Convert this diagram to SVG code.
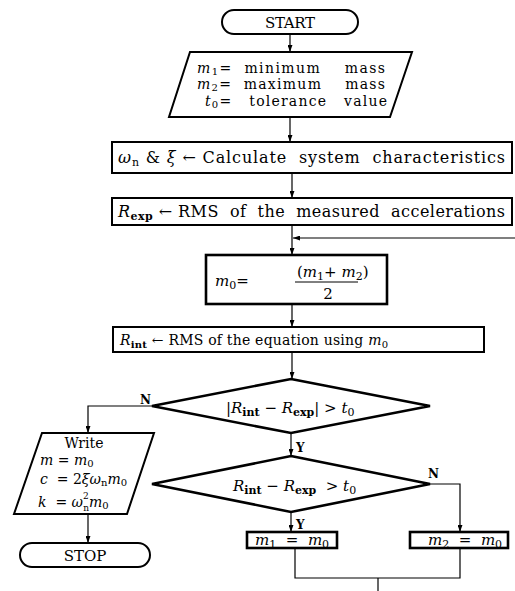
<svg xmlns="http://www.w3.org/2000/svg" width="515" height="591" viewBox="0 0 515 591">
<style>
text{font-family:"DejaVu Serif","Liberation Serif",serif;fill:#000;font-size:16px;white-space:pre}
.i{font-style:italic}
.s{font-size:11px}
.b{font-weight:bold}
.m{font-size:15px}
.w{font-size:14px}
.w .s{font-size:10px}
.w .t{font-size:9px}
.box{fill:#fff;stroke:#000;stroke-width:2}
.thick{stroke-width:2.6}
.c{fill:none;stroke:#000;stroke-width:1.2}
.lbl{font-size:12px;font-weight:bold}
.mid{text-anchor:middle}
</style>
<defs>
<marker id="a" viewBox="0 0 10 7" refX="10" refY="3.5" markerWidth="7" markerHeight="5" orient="auto" markerUnits="userSpaceOnUse"><path d="M0,0 L10,3.5 L0,7 z" fill="#000"/></marker>
</defs>
<g id="connectors">
<line class="c" x1="290" y1="34" x2="290" y2="52" marker-end="url(#a)"/>
<line class="c" x1="290" y1="117" x2="290" y2="142" marker-end="url(#a)"/>
<line class="c" x1="292" y1="173" x2="292" y2="198" marker-end="url(#a)"/>
<line class="c" x1="292" y1="225" x2="292" y2="255" marker-end="url(#a)"/>
<line class="c" x1="515" y1="238" x2="293" y2="238" marker-end="url(#a)"/>
<line class="c" x1="292" y1="304" x2="292" y2="327" marker-end="url(#a)"/>
<line class="c" x1="292" y1="352" x2="292" y2="379" marker-end="url(#a)"/>
<polyline class="c" points="152,406 88,406 88,433" marker-end="url(#a)"/>
<line class="c" x1="88" y1="514" x2="88" y2="543" marker-end="url(#a)"/>
<line class="c" x1="291" y1="433" x2="291" y2="456" marker-end="url(#a)"/>
<polyline class="c" points="430,484 460,484 460,532" marker-end="url(#a)"/>
<line class="c" x1="291" y1="512" x2="291" y2="532" marker-end="url(#a)"/>
<polyline class="c" points="295,548 295,578 460,578 460,548"/>
<line class="c" x1="378" y1="578" x2="378" y2="591"/>
<text class="lbl" x="140" y="404">N</text>
<text class="lbl" x="296" y="452">Y</text>
<text class="lbl" x="428" y="478">N</text>
<text class="lbl" x="296" y="529">Y</text>
</g>
<g id="start">
<rect class="box" x="222" y="10" width="136" height="24" rx="12"/>
<text class="mid m" x="290" y="28" textLength="50">START</text>
</g>
<g id="input">
<polygon class="box" points="190,52 412,52 390,117 169,117"/>
<text class="w" x="197" y="73" textLength="188"><tspan class="i">m</tspan><tspan class="s" dy="2">1</tspan><tspan dy="-2">=  minimum    mass</tspan></text>
<text class="w" x="197" y="89" textLength="188"><tspan class="i">m</tspan><tspan class="s" dy="2">2</tspan><tspan dy="-2">=  maximum    mass</tspan></text>
<text class="w" x="205" y="106" textLength="182"><tspan class="i">t</tspan><tspan class="s" dy="2">0</tspan><tspan dy="-2">=   tolerance   value</tspan></text>
</g>
<g id="characteristics">
<rect class="box" x="112" y="142" width="400" height="31"/>
<text x="118" y="163" textLength="387"><tspan class="i">ω</tspan><tspan class="s" dy="3">n</tspan><tspan dy="-3"> &amp; </tspan><tspan class="i">ξ</tspan><tspan> ← Calculate  system  characteristics</tspan></text>
</g>
<g id="rexp">
<rect class="box" x="112" y="198" width="400" height="27"/>
<text x="118" y="217" textLength="387"><tspan class="i">R</tspan><tspan class="s b" dy="3">exp</tspan><tspan dy="-3"> ← RMS  of  the  measured  accelerations</tspan></text>
</g>
<g id="m0">
<rect class="box thick" x="206" y="255" width="181" height="49"/>
<text class="m" x="215" y="286"><tspan class="i">m</tspan><tspan class="s" dy="3">0</tspan><tspan dy="-3">=</tspan></text>
<text class="m" x="297" y="277">(<tspan class="i">m</tspan><tspan class="s" dy="3">1</tspan><tspan dy="-3">+ </tspan><tspan class="i">m</tspan><tspan class="s" dy="3">2</tspan><tspan dy="-3">)</tspan></text>
<line x1="295" y1="282" x2="358" y2="282" stroke="#000" stroke-width="1"/>
<text class="mid m" x="328" y="299">2</text>
</g>
<g id="rint">
<rect class="box" x="113" y="327" width="371" height="25"/>
<text class="w" x="120" y="345" textLength="268"><tspan class="i">R</tspan><tspan class="s b" dy="3">int</tspan><tspan dy="-3"> ← RMS of the equation using </tspan><tspan class="i">m</tspan><tspan class="s" dy="3">0</tspan></text>
</g>
<g id="decision1">
<polygon class="box thick" points="291,379 430,406 291,433 152,406"/>
<text class="m" x="226" y="413">|<tspan class="i">R</tspan><tspan class="s b" dy="3">int</tspan><tspan dy="-3"> − </tspan><tspan class="i">R</tspan><tspan class="s b" dy="3">exp</tspan><tspan dy="-3">| &gt; </tspan><tspan class="i">t</tspan><tspan class="s" dy="3">0</tspan></text>
</g>
<g id="decision2">
<polygon class="box thick" points="291,456 430,484 291,512 152,484"/>
<text class="m" x="233" y="491"><tspan class="i">R</tspan><tspan class="s b" dy="3">int</tspan><tspan dy="-3"> − </tspan><tspan class="i">R</tspan><tspan class="s b" dy="3">exp</tspan><tspan dy="-3">  &gt; </tspan><tspan class="i">t</tspan><tspan class="s" dy="3">0</tspan></text>
</g>
<g id="write">
<polygon class="box" points="42,433 154,433 127,514 14,514"/>
<text class="mid w" x="84" y="448">Write</text>
<text class="w" x="40" y="465"><tspan class="i">m</tspan><tspan> = </tspan><tspan class="i">m</tspan><tspan class="s" dy="2">0</tspan></text>
<text class="w" x="40" y="484"><tspan class="i">c</tspan><tspan>  = 2</tspan><tspan class="i">ξω</tspan><tspan class="s" dy="2">n</tspan><tspan class="i" dy="-2">m</tspan><tspan class="s" dy="2">0</tspan></text>
<text class="w" x="38" y="507"><tspan class="i">k</tspan><tspan>  = </tspan><tspan class="i">ω</tspan><tspan class="t" dy="-8">2</tspan><tspan class="t" dx="-5.5" dy="12">n</tspan><tspan class="i" dy="-4">m</tspan><tspan class="s" dy="2">0</tspan></text>
</g>
<g id="stop">
<rect class="box" x="20" y="543" width="130" height="24" rx="12"/>
<text class="mid m" x="85" y="561">STOP</text>
</g>
<g id="m1">
<rect class="box thick" x="247" y="532" width="90" height="16"/>
<text class="m" x="255" y="545"><tspan class="i">m</tspan><tspan class="s" dy="3">1</tspan><tspan dy="-3">  =  </tspan><tspan class="i">m</tspan><tspan class="s" dy="3">0</tspan></text>
</g>
<g id="m2">
<rect class="box thick" x="410" y="532" width="98" height="16"/>
<text class="m" x="428" y="545"><tspan class="i">m</tspan><tspan class="s" dy="3">2</tspan><tspan dy="-3">  =  </tspan><tspan class="i">m</tspan><tspan class="s" dy="3">0</tspan></text>
</g>
</svg>
